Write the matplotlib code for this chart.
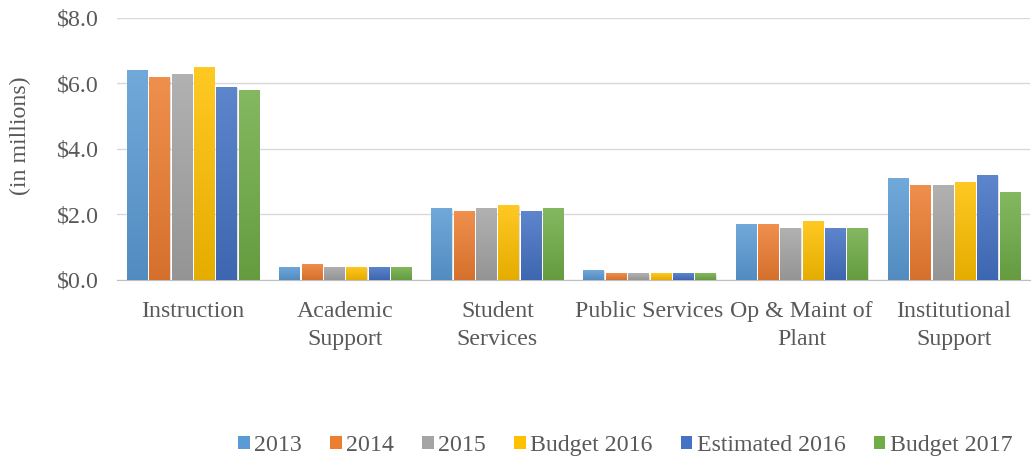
import numpy as np
import matplotlib.pyplot as plt
from matplotlib.colors import to_rgb
from matplotlib.patches import Patch

categories = ['Instruction', 'Academic\nSupport', 'Student\nServices',
              'Public Services', 'Op & Maint of\nPlant', 'Institutional\nSupport']
series = ['2013', '2014', '2015', 'Budget 2016', 'Estimated 2016', 'Budget 2017']
v2013 = [6.4, 0.4, 2.2, 0.3, 1.7, 3.1]
v2014 = [6.2, 0.5, 2.1, 0.2, 1.7, 2.9]
v2015 = [6.3, 0.4, 2.2, 0.2, 1.6, 2.9]
budget2016 = [6.5, 0.4, 2.3, 0.2, 1.8, 3.0]
est2016 = [5.9, 0.4, 2.1, 0.2, 1.6, 3.2]
budget2017 = [5.8, 0.4, 2.2, 0.2, 1.6, 2.7]
values = [v2013, v2014, v2015, budget2016, est2016, budget2017]
colors = ['#5B9BD5', '#ED7D31', '#A5A5A5', '#FFC000', '#4472C4', '#70AD47']

plt.rcParams['font.family'] = ['Liberation Serif', 'DejaVu Serif']
text_color = '#595959'
fs = 17.2

fig = plt.figure(figsize=(10.34, 4.59), dpi=100)
ax = fig.add_axes([0.113, 0.39, 0.883, 0.571])

x = np.arange(len(categories))
slot = 0.147
width = 0.132
grad = np.linspace(0, 1, 100).reshape(-1, 1)

for i, (vals, col) in enumerate(zip(values, colors)):
    base = np.array(to_rgb(col))
    top = base + (1 - base) * 0.14
    bottom = base * 0.9
    img = (bottom[None, :] * (1 - grad) + top[None, :] * grad)[::-1]
    img = img.reshape(100, 1, 3)
    pos = x + (i - 2.5) * slot
    # soft shadow behind each bar
    ax.bar(pos + 0.008, vals, width, bottom=-0.04, color='#000000', alpha=0.12, zorder=2)
    bars = ax.bar(pos, vals, width, color=col, zorder=3)
    for b in bars:
        x0, h = b.get_x(), b.get_height()
        im = ax.imshow(img, extent=[x0, x0 + width, 0, h], aspect='auto',
                       zorder=4, interpolation='bilinear')
        im.set_clip_path(b)

ax.set_xlim(-0.5, 5.5)
ax.set_ylim(0, 8)
ax.set_yticks(np.arange(0, 8.1, 2))
ax.set_yticklabels(['$%.1f' % t for t in np.arange(0, 8.1, 2)])
ax.set_xticks(x)
ax.set_xticklabels(categories, linespacing=1.45)
ax.yaxis.grid(True, color='#D9D9D9', linewidth=1)
ax.set_axisbelow(True)
for s in ['top', 'right', 'left']:
    ax.spines[s].set_visible(False)
ax.spines['bottom'].set_color('#BFBFBF')
ax.tick_params(axis='both', length=0, labelsize=fs, labelcolor=text_color)
ax.tick_params(axis='x', pad=15)
ax.tick_params(axis='y', pad=13)
ax.set_ylabel('(in millions)', fontsize=fs, color=text_color)
ax.yaxis.set_label_coords(-0.094, 0.55)

handles = [Patch(facecolor=c, label=s) for c, s in zip(colors, series)]
fig.legend(handles=handles, loc='lower right', bbox_to_anchor=(1.0, -0.04), ncol=6,
           frameon=False, fontsize=fs, labelcolor=text_color,
           handlelength=0.48, handleheight=0.48, handletextpad=0.2, columnspacing=1.17)

fig.savefig('out.png', dpi=100)
